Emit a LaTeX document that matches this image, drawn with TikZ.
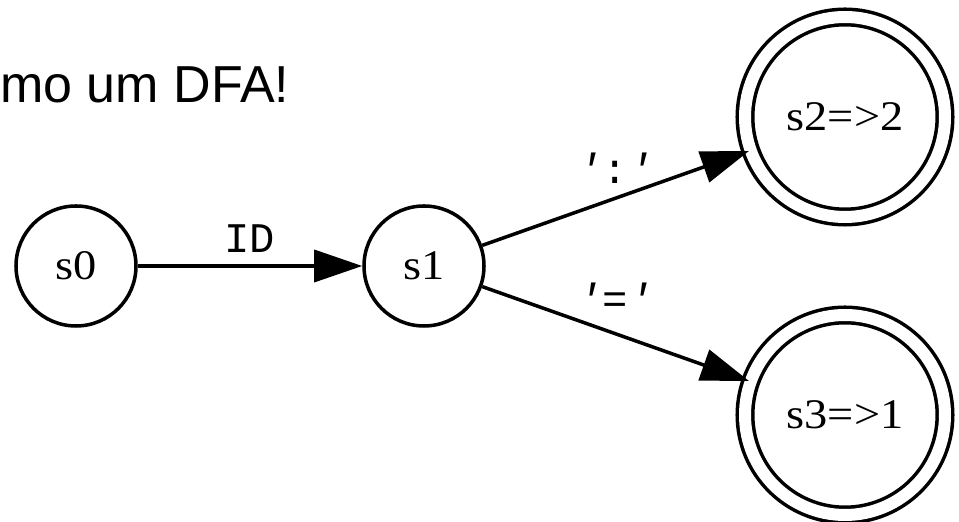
\documentclass[tikz,border=0pt]{standalone}
\usepackage{fontspec}
\setmainfont{Liberation Serif}
\newfontfamily\titlefont{Liberation Sans}
\newfontfamily\statefont[FakeStretch=1.1]{Liberation Serif}
\newfontfamily\labelfont{Liberation Mono}
\newcommand{\qt}{{\itshape '}}
\usetikzlibrary{arrows.meta}

\begin{document}
\begin{tikzpicture}[
    state/.style={circle,draw,line width=2.5pt,minimum size=3cm,inner sep=0pt,
        font=\statefont\fontsize{30}{32}\selectfont},
    final/.style={state,double,double distance=0.3cm,minimum size=5cm},
    edge/.style={line width=2.5pt,-{Triangle[length=1.2cm,width=0.8cm]}},
    lbl/.style={font=\labelfont\fontsize{30}{32}\selectfont,inner sep=2pt}
]
    \useasboundingbox (0,0) rectangle (23.975,13.05);
    \node[anchor=base west,inner sep=0pt,font=\titlefont\fontsize{37}{40}\selectfont] (title) at (0,10.475) {mo um DFA!};

    \node[state] (s0) at (1.9,6.4) {s0};
    \node[state] (s1) at (10.6,6.4) {s1};
    \node[final] (s2) at (21.125,10.125) {s2=>2};
    \node[final] (s3) at (21.125,2.675) {s3=>1};

    \draw[edge] (s0) -- node[lbl,above=6pt] (lid) {ID} (s1);
    \draw[edge] (s1) -- node[lbl,above=7pt] (lcolon) {\qt:\qt} (s2);
    \draw[edge] (s1) -- node[lbl,above=11pt] (lequal) {\qt=\qt} (s3);
\end{tikzpicture}
\end{document}
